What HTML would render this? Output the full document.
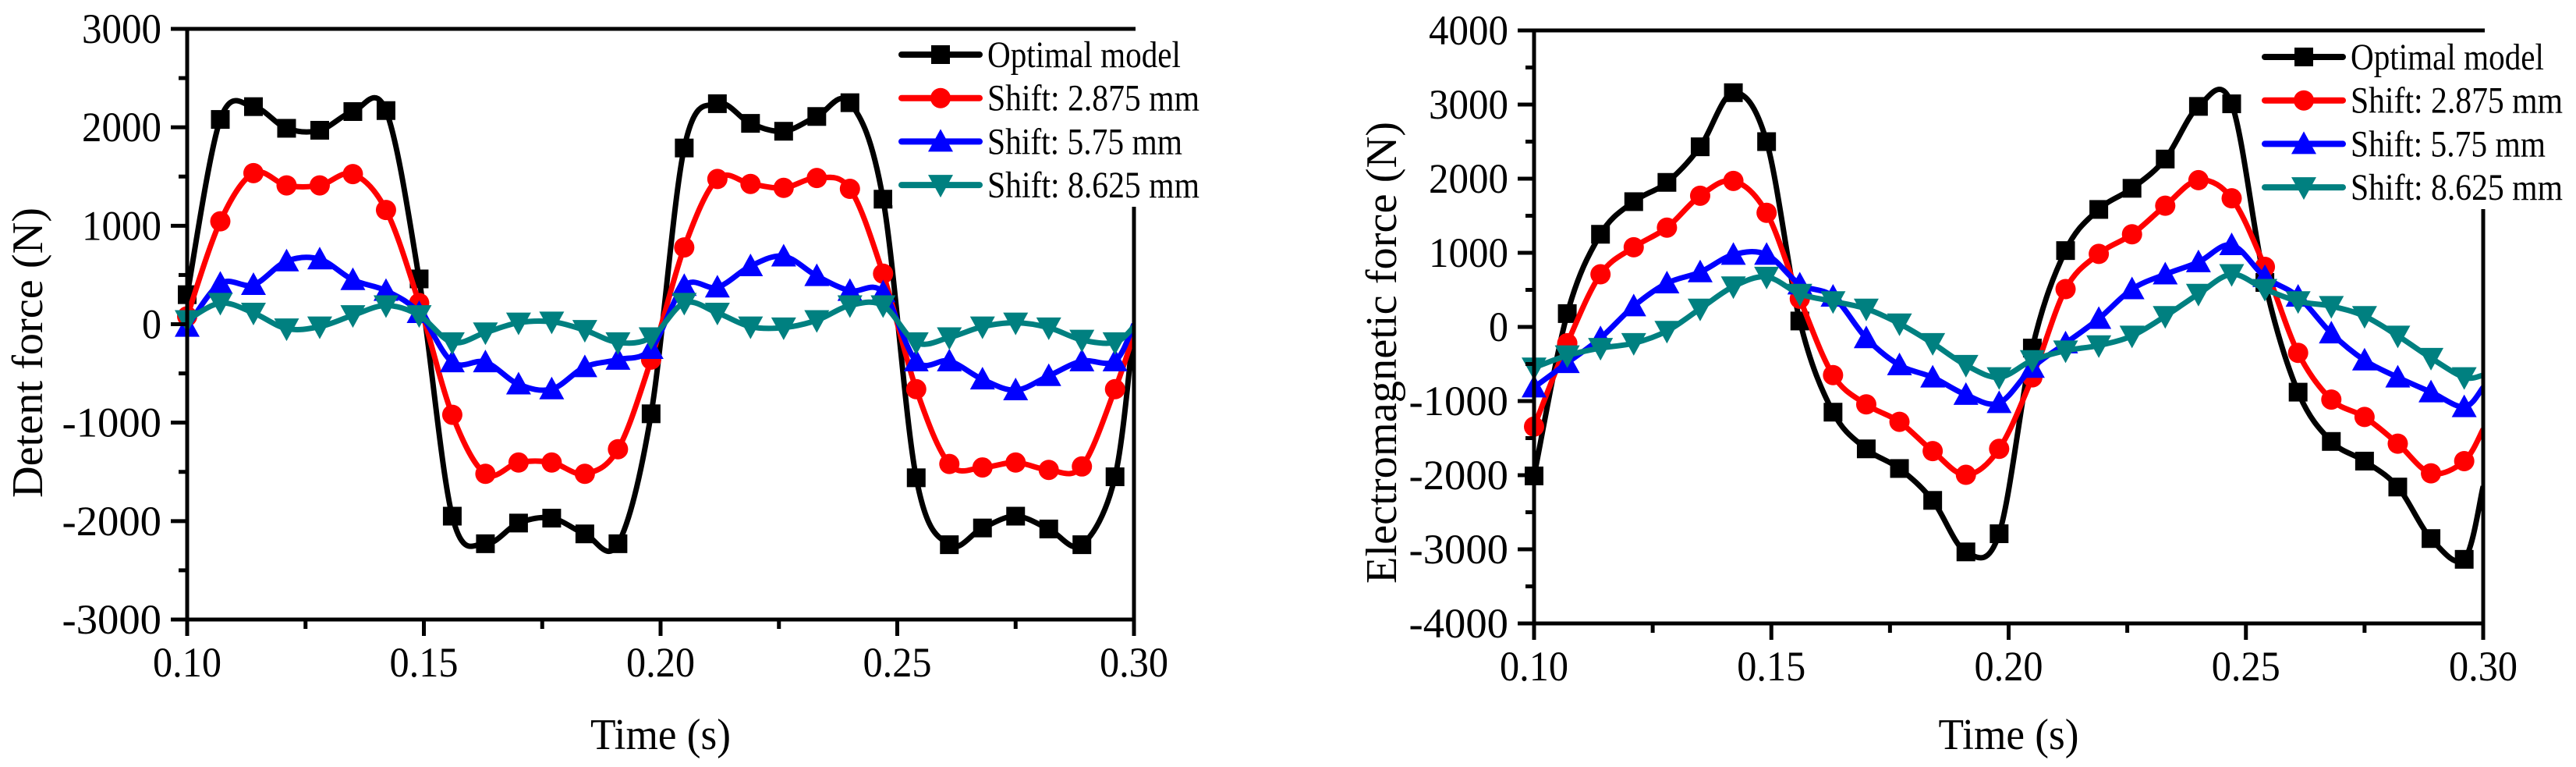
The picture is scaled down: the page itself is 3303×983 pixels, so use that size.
<!DOCTYPE html>
<html><head><meta charset="utf-8"><style>
html,body{margin:0;padding:0;background:#fff;}
svg{display:block;font-family:"Liberation Serif",serif;}
</style></head><body>
<svg id="chart" width="3303" height="983" viewBox="0 0 3303 983" xmlns="http://www.w3.org/2000/svg"></svg>
<script>
const times = [0.100,0.107,0.114,0.121,0.128,0.135,0.142,0.149,0.156,0.163,0.170,0.177,0.184,0.191,0.198,0.205,0.212,0.219,0.226,0.233,0.240,0.247,0.254,0.261,0.268,0.275,0.282,0.289,0.296,0.300];
const seriesNames = ["Optimal model","Shift: 2.875 mm","Shift: 5.75 mm","Shift: 8.625 mm"];
const xTickLabels = ["0.10","0.15","0.20","0.25","0.30"];
const xTickValues = [0.10,0.15,0.20,0.25,0.30];
// Left chart: detent force
const detentYTicks = [3000,2000,1000,0,-1000,-2000,-3000];
const detentOptimal = [300,2080,2210,1990,1970,2160,2170,460,-1950,-2230,-2020,-1970,-2130,-2230,-910,1790,2240,2040,1960,2110,2250,1270,-1560,-2240,-2070,-1950,-2080,-2240,-1550,0];
const detentShift1 = [80,1045,1535,1410,1410,1525,1160,215,-920,-1520,-1405,-1405,-1520,-1270,-360,780,1475,1425,1385,1485,1375,513,-660,-1420,-1455,-1405,-1480,-1445,-660,-100];
const detentShift2 = [-25,413,400,640,660,450,340,115,-385,-385,-610,-660,-435,-360,-250,390,375,590,690,490,340,325,-375,-375,-560,-670,-525,-375,-375,0];
const detentShift3 = [40,215,115,-45,-25,90,190,90,-185,-85,15,25,-60,-185,-135,215,115,-25,-35,40,190,190,-185,-135,-25,15,-35,-160,-185,-25];
// Right chart: electromagnetic force
const emYTicks = [4000,3000,2000,1000,0,-1000,-2000,-3000,-4000];
const emOptimal = [-2010,180,1250,1690,1950,2430,3160,2500,80,-1150,-1645,-1910,-2340,-3035,-2790,-285,1030,1585,1870,2265,2975,3010,600,-880,-1545,-1810,-2160,-2855,-3135,-2150];
const emShift1 = [-1345,-220,710,1075,1340,1770,1970,1540,380,-650,-1045,-1280,-1675,-1995,-1645,-680,510,985,1250,1635,1980,1735,810,-350,-980,-1215,-1575,-1975,-1810,-1380];
const emShift2 = [-815,-485,-150,280,590,740,975,975,575,410,-150,-515,-680,-915,-1025,-550,-220,110,510,710,875,1105,675,410,-85,-450,-680,-880,-1080,-815];
const emShift3 = [-550,-385,-285,-220,-55,245,545,675,445,345,245,45,-220,-515,-680,-450,-320,-250,-120,145,445,710,510,345,280,145,-120,-420,-680,-650];
</script>
<script>
const NS="http://www.w3.org/2000/svg";
const svg=document.getElementById('chart');
const colors=["#000000","#ff0000","#0000ff","#008080"];
const shapes=["square","circle","up","down"];
function mk(tag,attrs,parent){const e=document.createElementNS(NS,tag);for(const k in attrs)e.setAttribute(k,attrs[k]);(parent||svg).appendChild(e);return e;}
function smooth(pts){let d="M"+pts[0][0]+","+pts[0][1];for(let i=0;i<pts.length-1;i++){const p0=pts[Math.max(0,i-1)],p1=pts[i],p2=pts[i+1],p3=pts[Math.min(pts.length-1,i+2)];const c1=[p1[0]+(p2[0]-p0[0])/6,p1[1]+(p2[1]-p0[1])/6];const c2=[p2[0]-(p3[0]-p1[0])/6,p2[1]-(p3[1]-p1[1])/6];d+=" C"+c1[0].toFixed(1)+","+c1[1].toFixed(1)+" "+c2[0].toFixed(1)+","+c2[1].toFixed(1)+" "+p2[0].toFixed(1)+","+p2[1].toFixed(1);}return d;}
function marker(g,shape,x,y,c){let e;
 if(shape==="square"){e=mk('rect',{x:x-12,y:y-12,width:24,height:24,fill:c},g);}
 else if(shape==="circle"){e=mk('circle',{cx:x,cy:y,r:13,fill:c},g);}
 else if(shape==="up"){e=mk('polygon',{points:(x)+","+(y-16)+" "+(x-16)+","+(y+13)+" "+(x+16)+","+(y+13),fill:c},g);}
 else {e=mk('polygon',{points:(x)+","+(y+16)+" "+(x-16)+","+(y-13)+" "+(x+16)+","+(y-13),fill:c},g);}
 return e;}
function drawChart(o){
 const g=mk('g',{});
 
 
 const X=t=>o.x0+(t-0.10)/0.20*(o.x1-o.x0);
 const Y=v=>o.yB-(v-o.yMin)/(o.yMax-o.yMin)*(o.yB-o.yT);
 const cid=o.name+'-clip';
 const cp=mk('clipPath',{id:cid},g);mk('rect',{x:o.x0,y:o.yT-30,width:o.x1-o.x0,height:o.yB-o.yT+60},cp);
 // series
 o.series.forEach((vals,si)=>{
  const sg=mk('g',{},g);
  
  
  const pts=times.map((t,i)=>[X(t),Y(vals[i])]);
  const p=mk('path',{d:smooth(pts),fill:'none',stroke:colors[si],'stroke-width':7,'stroke-linejoin':'round','clip-path':'url(#'+cid+')'},sg);
  
  
  for(let i=0;i<times.length-1;i++){const m=marker(sg,shapes[si],X(times[i]),Y(vals[i]),colors[si]);
   
   }
 });
 // legend background
 const lg=mk('g',{},g);
 
 
 mk('rect',{x:o.lx-12,y:o.yT+4,width:o.x1-o.lx+100,height:o.axisGap-o.yT-6,fill:'#fff'},lg);
 seriesNames.forEach((n,si)=>{
  const ly=o.ly+si*55.7;
  const eg=mk('g',{},lg);
  
  
  mk('line',{x1:o.lx,y1:ly,x2:o.lx+100,y2:ly,stroke:colors[si],'stroke-width':8,'stroke-linecap':'round'},eg);
  marker(eg,shapes[si],o.lx+50,ly,colors[si]);
  const t=mk('text',{x:o.lx+110,y:ly+16,'font-size':48,fill:'#000',textLength:o.legLen[si],lengthAdjust:'spacingAndGlyphs'},eg);
  t.textContent=n;
 });
 // axes
 const ax=mk('g',{stroke:'#000','stroke-width':5,fill:'none'},g);
 
 
 mk('line',{x1:o.x0,y1:o.yT,x2:o.x1+2,y2:o.yT},ax);
 mk('line',{x1:o.x0,y1:o.yT-2,x2:o.x0,y2:o.yB+2},ax);
 mk('line',{x1:o.x0-2,y1:o.yB,x2:o.x1+2,y2:o.yB},ax);
 mk('line',{x1:o.x1,y1:o.axisGap,x2:o.x1,y2:o.yB+2},ax);
 // x ticks
 xTickValues.forEach((v,i)=>{
  mk('line',{x1:X(v),y1:o.yB,x2:X(v),y2:o.yB+21},ax);
  if(i<xTickValues.length-1)mk('line',{x1:X(v+0.025),y1:o.yB,x2:X(v+0.025),y2:o.yB+12},ax);
  const t=mk('text',{x:X(v),y:o.yB+73,'font-size':54,'text-anchor':'middle',fill:'#000',textLength:88,lengthAdjust:'spacingAndGlyphs'},g);
  
  
  t.textContent=xTickLabels[i];
 });
 // y ticks
 o.yTicks.forEach((v,i)=>{
  mk('line',{x1:o.x0-21,y1:Y(v),x2:o.x0,y2:Y(v)},ax);
  if(i<o.yTicks.length-1)mk('line',{x1:o.x0-11,y1:Y(v-500),x2:o.x0,y2:Y(v-500)},ax);
  const s=String(v);
  const t=mk('text',{x:o.x0-33,y:Y(v)+18,'font-size':54,'text-anchor':'end',fill:'#000',textLength:(s.length===1?25:s.length*25.5),lengthAdjust:'spacingAndGlyphs'},g);
  
  
  t.textContent=s;
 });
 const xt=mk('text',{x:(o.x0+o.x1)/2,y:960,'font-size':56,'text-anchor':'middle',fill:'#000',textLength:180,lengthAdjust:'spacingAndGlyphs'},g);
 
 
 xt.textContent='Time (s)';
 const yt=mk('text',{x:0,y:0,'font-size':56,'text-anchor':'middle',fill:'#000',transform:'translate('+o.ytx+',452) rotate(-90)',textLength:o.ytLen,lengthAdjust:'spacingAndGlyphs'},g);
 
 
 yt.textContent=o.ytitle;
}
drawChart({name:'detent-force-chart',x0:240,x1:1454,yT:37,yB:794,yMin:-3000,yMax:3000,yTicks:detentYTicks,
 series:[detentOptimal,detentShift1,detentShift2,detentShift3],lx:1156,ly:70,axisGap:265,legLen:[248,272,250,272],
 ytx:54,ytitle:'Detent force (N)',ytLen:372});
drawChart({name:'electromagnetic-force-chart',x0:1967,x1:3184,yT:39,yB:799,yMin:-4000,yMax:4000,yTicks:emYTicks,
 series:[emOptimal,emShift1,emShift2,emShift3],lx:2904,ly:73,axisGap:268,legLen:[248,272,250,272],
 ytx:1790,ytitle:'Electromagnetic force (N)',ytLen:592});
</script>
</body></html>
